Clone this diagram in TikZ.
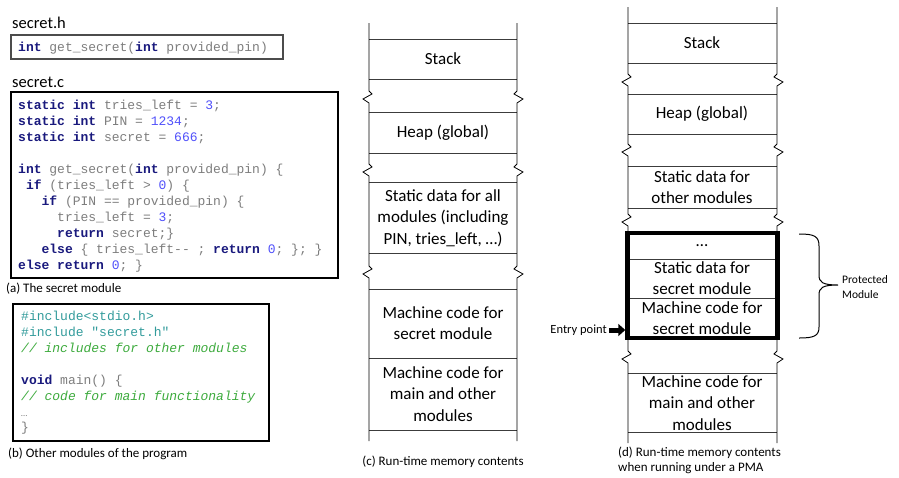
\documentclass[tikz,border=0pt]{standalone}
\usepackage{fontspec}
\setmainfont{Carlito}
\newfontfamily\codefont{Liberation Mono}
\usetikzlibrary{arrows.meta}
\definecolor{kwc}{RGB}{25,25,125}
\definecolor{codeg}{RGB}{125,125,125}
\definecolor{numc}{RGB}{80,80,250}
\definecolor{incc}{RGB}{50,155,155}
\definecolor{cmc}{RGB}{60,170,60}
\definecolor{linec}{RGB}{60,60,60}
\newcommand\cdkw[1]{{\bfseries\color{kwc}#1}}
\newcommand\cdnum[1]{{\color{numc}#1}}
\newcommand\cdcom[1]{{\itshape\color{cmc}#1}}
\newcommand\cdinc[1]{{\color{incc}#1}}
\tikzset{
  code/.style={font=\codefont\fontsize{13}{16}\selectfont, text=codeg, inner sep=0pt, anchor=base west},
  lbl/.style={font=\fontsize{16.5}{19}\selectfont, inner sep=0pt, anchor=base west},
  captxt/.style={font=\fontsize{13}{15}\selectfont, inner sep=0pt},
  mem/.style={font=\fontsize{17}{21.5}\selectfont, align=center, inner sep=0pt},
  memh/.style={draw=linec, line width=0.8pt},
  memv/.style={draw=black, line width=0.8pt},
  codebox/.style={draw=black, line width=1.2pt},
  zl/.style 2 args={insert path={-- (#1,#2-6) -- (#1+3,#2-3) -- (#1-6,#2+2) -- (#1,#2+6)}},
  zr/.style 2 args={insert path={-- (#1,#2-6) -- (#1-3,#2-3) -- (#1+6,#2+2) -- (#1,#2+6)}},
}
\begin{document}
\begin{tikzpicture}[x=1pt,y=-1pt]
\useasboundingbox (0,0) rectangle (899,477);

% ---------- secret.h ----------
\node[lbl] (lh) at (12,28) {secret.h};
\draw[codebox, draw=black!70] (11,35) rectangle (283,59);
\node[code] (h1) at (18,51) {\cdkw{int} get\_secret(\cdkw{int} provided\_pin)};

% ---------- secret.c ----------
\node[lbl] (lc) at (12,87) {secret.c};
\draw[codebox] (11,92) rectangle (338,278);
\node[code] (c1) at (18,109) {\cdkw{static int} tries\_left = \cdnum{3};};
\node[code] (c2) at (18,125) {\cdkw{static int} PIN = \cdnum{1234};};
\node[code] (c3) at (18,141) {\cdkw{static int} secret = \cdnum{666};};
\node[code] (c4) at (18,173) {\cdkw{int} get\_secret(\cdkw{int} provided\_pin) \{};
\node[code] (c5) at (18,189) {~\cdkw{if} (tries\_left > \cdnum{0}) \{};
\node[code] (c6) at (18,205) {~~~\cdkw{if} (PIN == provided\_pin) \{};
\node[code] (c7) at (18,221) {~~~~~tries\_left = \cdnum{3};};
\node[code] (c8) at (18,237) {~~~~~\cdkw{return} secret;\}};
\node[code] (c9) at (18,253) {~~~\cdkw{else} \{ tries\_left-{}- ; \cdkw{return} \cdnum{0}; \}; \}};
\node[code] (c10) at (18,269) {\cdkw{else return} \cdnum{0}; \}};
\node[captxt, anchor=base west] (capa) at (6,292) {(a) The secret module};

% ---------- other modules ----------
\draw[codebox] (13,304) rectangle (269,441);
\node[code] (b1) at (21,320) {\cdinc{\#include<stdio.h>}};
\node[code] (b2) at (21,336) {\cdinc{\#include "secret.h"}};
\node[code] (b3) at (21,352) {\cdcom{// includes for other modules}};
\node[code] (b4) at (21,384) {\cdkw{void} main() \{};
\node[code] (b5) at (21,400) {\cdcom{// code for main functionality}};
\node[code, font=\fontsize{9}{10}\selectfont] (b6) at (21,416) {…};
\node[code] (b7) at (21,431) {\}};
\node[captxt, anchor=base west] (capb) at (8,457) {(b) Other modules of the program};

% ---------- (c) memory ----------
\foreach \y in {39,79,112,153,182,253,289,358,430}
  \draw[memh] (369,\y) -- (517,\y);
\draw[memv] (369,23) [zl={369}{97}] [zl={369}{170}] [zl={369}{272}] -- (369,441);
\draw[memv] (517,23) [zr={517}{97}] [zr={517}{170}] [zr={517}{272}] -- (517,441);
\node[mem] (cstack) at (443,59) {Stack};
\node[mem] (cheap) at (443,133) {Heap (global)};
\node[mem] (cstatic) at (443,218) {Static data for all\\modules (including\\PIN, tries\_left, …)};
\node[mem] (csecret) at (443,323) {Machine code for\\secret module};
\node[mem] (cmain) at (443,394) {Machine code for\\main and other\\modules};
\node[captxt, anchor=base] (capc) at (443,465) {(c) Run-time memory contents};

% ---------- (d) memory ----------
\foreach \y in {23,63,94,134,166,208,259,298,373,432}
  \draw[memh] (628,\y) -- (777,\y);
\draw[memv] (628,7) [zl={628}{80}] [zl={628}{150}] [zl={628}{220}] [zl={628}{357}] -- (628,443);
\draw[memv] (777,7) [zr={777}{80}] [zr={777}{150}] [zr={777}{220}] [zr={777}{357}] -- (777,443);
\node[draw=black, line width=4.5pt, minimum width=150pt, minimum height=105pt, inner sep=0pt] (pma) at (702.5,285.5) {};
\node[mem] (dstack) at (702,43) {Stack};
\node[mem] (dheap) at (702,114) {Heap (global)};
\node[mem] (dstatic) at (702,187) {Static data for\\other modules};
\node[mem] (ddots) at (702,246) {…};
\node[mem] (dsdata) at (702,278) {Static data for\\secret module};
\node[mem] (dscode) at (702,318) {Machine code for\\secret module};
\node[mem] (dmain) at (702,403) {Machine code for\\main and other\\modules};
\node[captxt, anchor=base west] (capd) at (618,456) {(d) Run-time memory contents};
\node[captxt, anchor=base west] (capd2) at (618,471) {when running under a PMA};

% entry point
\node[captxt, anchor=east, font=\fontsize{12.5}{14}\selectfont] (entry) at (607,330) {Entry point};
\draw[line width=5pt, -{Triangle[length=7pt,width=12pt]}] (entry.east) ++(2,0) -- (pma.west |- entry.east);

% brace
\coordinate (btip) at (838,285);
\draw[line width=1pt] (799,234) .. controls (814,234) and (819,236) .. (819,246) -- (819,275)
  .. controls (819,282) and (822,285) .. (btip)
  .. controls (822,285) and (819,288) .. (819,295) -- (819,327)
  .. controls (819,336) and (814,338) .. (799,338);
\node[captxt, anchor=west, align=left, font=\fontsize{11.5}{15}\selectfont] (prot) at (842,287) {Protected\\Module};
\end{tikzpicture}
\end{document}
